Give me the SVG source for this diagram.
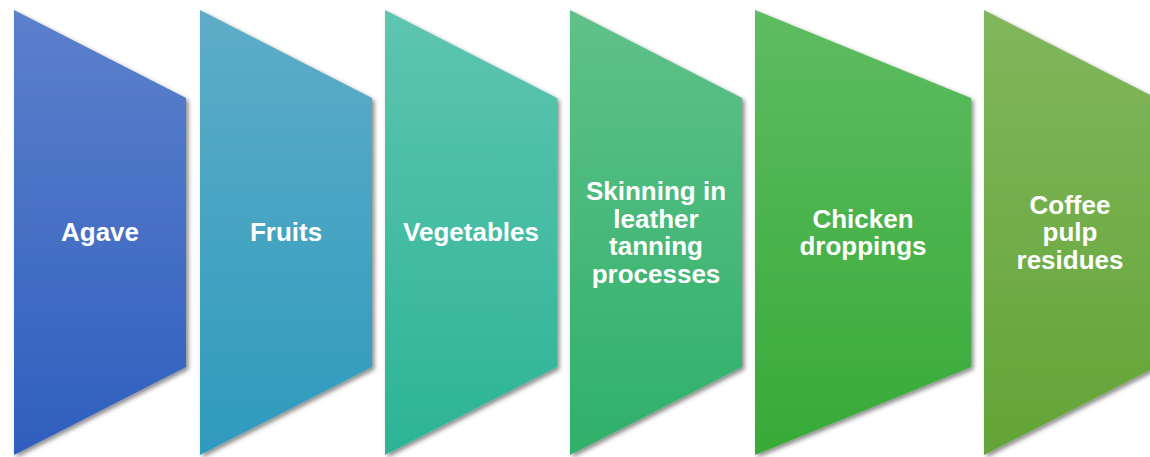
<svg xmlns="http://www.w3.org/2000/svg" width="1150" height="457" viewBox="0 0 1150 457">
<defs>
<filter id="sh" x="-10%" y="-10%" width="130%" height="130%">
<feDropShadow dx="2.5" dy="2.5" stdDeviation="2" flood-color="#000" flood-opacity="0.45"/>
</filter>
<linearGradient id="g1" x1="0" y1="0" x2="0" y2="1"><stop offset="0" stop-color="#5C80CC"/><stop offset="1" stop-color="#2F5FBE"/></linearGradient>
<linearGradient id="g2" x1="0" y1="0" x2="0" y2="1"><stop offset="0" stop-color="#5EADC8"/><stop offset="1" stop-color="#2E9ABD"/></linearGradient>
<linearGradient id="g3" x1="0" y1="0" x2="0" y2="1"><stop offset="0" stop-color="#5EC5B0"/><stop offset="1" stop-color="#2CB495"/></linearGradient>
<linearGradient id="g4" x1="0" y1="0" x2="0" y2="1"><stop offset="0" stop-color="#5FC189"/><stop offset="1" stop-color="#2FB06A"/></linearGradient>
<linearGradient id="g5" x1="0" y1="0" x2="0" y2="1"><stop offset="0" stop-color="#5EBC61"/><stop offset="1" stop-color="#37AA37"/></linearGradient>
<linearGradient id="g6" x1="0" y1="0" x2="0" y2="1"><stop offset="0" stop-color="#81B75D"/><stop offset="1" stop-color="#63A436"/></linearGradient>
</defs>
<style>
.s{filter:url(#sh);}
.t{font-family:"Liberation Sans",Arial,sans-serif;font-weight:bold;font-size:26px;fill:#fff;text-anchor:middle;}
</style>
<rect width="1150" height="457" fill="#fff"/>
<g id="node1"><polygon class="s" fill="url(#g1)" points="14,10 186,98 186,367 14,455"/><text class="t" x="100" y="241">Agave</text></g>
<g id="node2"><polygon class="s" fill="url(#g2)" points="200,10 372,98 372,367 200,455"/><text class="t" x="286" y="241">Fruits</text></g>
<g id="node3"><polygon class="s" fill="url(#g3)" points="385,10 557,98 557,367 385,455"/><text class="t" x="471" y="241">Vegetables</text></g>
<g id="node4"><polygon class="s" fill="url(#g4)" points="570,10 742,98 742,367 570,455"/><text class="t" x="656"><tspan x="656" y="200">Skinning in</tspan><tspan x="656" y="227.5">leather</tspan><tspan x="656" y="255">tanning</tspan><tspan x="656" y="282.5">processes</tspan></text></g>
<g id="node5"><polygon class="s" fill="url(#g5)" points="755,10 971,98 971,367 755,455"/><text class="t" x="863"><tspan x="863" y="227.5">Chicken</tspan><tspan x="863" y="255">droppings</tspan></text></g>
<g id="node6"><polygon class="s" fill="url(#g6)" points="984,10 1156,98 1156,367 984,455"/><text class="t" x="1070"><tspan x="1070" y="213.5">Coffee</tspan><tspan x="1070" y="241">pulp</tspan><tspan x="1070" y="268.5">residues</tspan></text></g>
<g id="connectors"/>
</svg>
